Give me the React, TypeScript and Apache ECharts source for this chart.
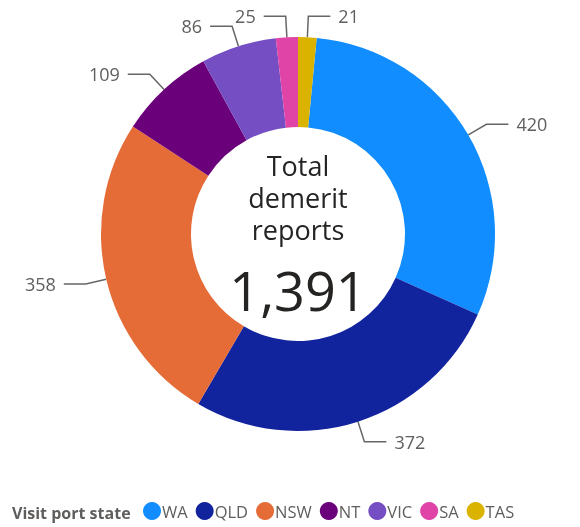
import React, { useEffect, useRef } from "react";
import * as echarts from "echarts";

const states = ["WA", "QLD", "NSW", "NT", "VIC", "SA", "TAS"];
const reports = [420, 372, 358, 109, 86, 25, 21];
const colors = ["#118DFF", "#12239E", "#E66C37", "#6B007B", "#744EC2", "#E044A7", "#D9B300"];
const legendTitle = "Visit port state";
const centerLines = ["Total", "demerit", "reports"];

export default function App() {
  const ref = useRef<HTMLDivElement>(null);
  useEffect(() => {
    if (!ref.current) return;
    const chart = echarts.init(ref.current, undefined, { renderer: "svg" });
    const total = reports.reduce((a, b) => a + b, 0);
    const lastShare = (reports[reports.length - 1] / total) * 360;
    const font = "'Open Sans', 'Noto Sans', sans-serif";
    chart.setOption({
      animation: false,
      color: colors,
      legend: {
        data: states,
        left: 138,
        top: 497,
        icon: "circle",
        itemWidth: 18,
        itemHeight: 18,
        itemGap: 8,
        selectedMode: false,
        textStyle: { color: "#605E5C", fontSize: 16.5, fontFamily: font, padding: [0, 0, 0, -4] },
      },
      graphic: [
        {
          type: "text",
          x: 12,
          y: 513,
          style: {
            text: legendTitle,
            font: `bold 16px ${font}`,
            fill: "#605E5C",
            textAlign: "left",
            textVerticalAlign: "middle",
          },
        },
        ...centerLines.map((t, i) => ({
          type: "text",
          x: 298,
          y: 165 + i * 32,
          style: {
            text: t,
            font: `27px ${font}`,
            lineHeight: 32,
            fill: "#252423",
            textAlign: "center",
            textVerticalAlign: "middle",
          },
        })),
        {
          type: "text",
          x: 298,
          y: 290,
          style: {
            text: total.toLocaleString("en-US"),
            font: `54px ${font}`,
            fill: "#252423",
            textAlign: "center",
            textVerticalAlign: "middle",
          },
        },
      ],
      series: [
        {
          type: "pie",
          center: [298, 234],
          radius: [107, 197],
          startAngle: 90 - lastShare,
          clockwise: true,
          avoidLabelOverlap: false,
          data: states.map((s, i) => ({ name: s, value: reports[i] })),
          label: {
            show: true,
            formatter: "{c}",
            color: "#605E5C",
            fontSize: 18,
            fontFamily: font,
            distanceToLabelLine: 8,
          },
          labelLine: {
            show: true,
            length: 21,
            length2: 22,
            lineStyle: { color: "#666666", width: 1.5 },
          },
          itemStyle: { borderWidth: 0 },
          emphasis: { disabled: true },
        },
      ],
    });
    return () => chart.dispose();
  }, []);
  return <div ref={ref} style={{ position: "fixed", left: 0, top: 0, width: 580, height: 527 }} />;
}
